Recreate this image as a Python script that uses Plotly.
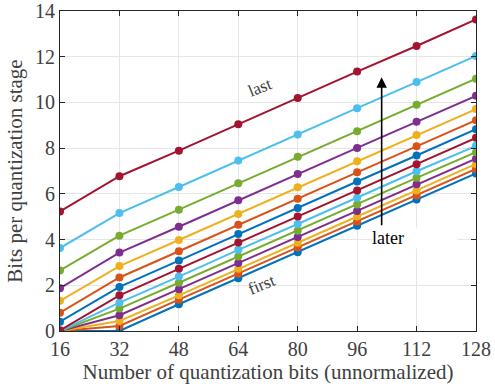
import plotly.graph_objects as go

bits = [16, 32, 48, 64, 80, 96, 112, 128]

# stage curves, from "first" (bottom) to "last" (top)
s01 = [0.00, 0.00, 1.17, 2.31, 3.45, 4.61, 5.75, 6.89]
s02 = [0.00, 0.22, 1.37, 2.51, 3.65, 4.79, 5.93, 7.09]
s03 = [0.00, 0.44, 1.56, 2.72, 3.86, 5.01, 6.15, 7.31]
s04 = [0.00, 0.69, 1.83, 2.97, 4.11, 5.25, 6.42, 7.54]
s05 = [0.00, 0.98, 2.11, 3.26, 4.39, 5.53, 6.70, 7.82]
s06 = [0.00, 1.24, 2.38, 3.55, 4.68, 5.83, 6.99, 8.10]
s07 = [0.03, 1.56, 2.72, 3.87, 5.01, 6.15, 7.29, 8.45]
s08 = [0.41, 1.93, 3.08, 4.24, 5.38, 6.54, 7.68, 8.83]
s09 = [0.80, 2.34, 3.49, 4.65, 5.79, 6.94, 8.08, 9.22]
s10 = [1.32, 2.84, 3.98, 5.12, 6.29, 7.43, 8.57, 9.71]
s11 = [1.87, 3.43, 4.56, 5.72, 6.87, 8.01, 9.15, 10.29]
s12 = [2.65, 4.17, 5.31, 6.46, 7.62, 8.74, 9.90, 11.04]
s13 = [3.63, 5.16, 6.30, 7.46, 8.60, 9.75, 10.89, 12.03]
s14 = [5.23, 6.77, 7.89, 9.05, 10.19, 11.35, 12.47, 13.63]
series = [s01, s02, s03, s04, s05, s06, s07, s08, s09, s10, s11, s12, s13, s14]

x_ticks = [16, 32, 48, 64, 80, 96, 112, 128]
y_ticks = [0, 2, 4, 6, 8, 10, 12, 14]

palette = ["#0072BD", "#D95319", "#EDB120", "#7E2F8E", "#77AC30", "#4DBEEE", "#A2142F"]

FONT = "Liberation Serif"
GRAY = "#404040"

fig = go.Figure()
for i, s in enumerate(series):
    c = palette[i % len(palette)]
    fig.add_trace(go.Scatter(
        x=bits, y=s, mode="lines+markers",
        line=dict(color=c, width=2),
        marker=dict(color=c, size=8),
        showlegend=False,
    ))

axis_common = dict(
    showline=True, mirror="ticks", linecolor="#262626", linewidth=1,
    ticks="inside", ticklen=5, tickcolor="#262626",
    showgrid=True, gridcolor="#e6e6e6", gridwidth=1,
    zeroline=False, automargin=False,
    tickfont=dict(family=FONT, size=20, color=GRAY),
)

fig.update_xaxes(
    range=[16, 128], tickvals=x_ticks,
    title=dict(text="Number of quantization bits (unnormalized)",
               font=dict(family=FONT, size=21, color=GRAY), standoff=6),
    **axis_common,
)
fig.update_yaxes(
    range=[0, 14], tickvals=y_ticks,
    title=dict(text="Bits per quantization stage",
               font=dict(family=FONT, size=21, color=GRAY), standoff=6),
    **axis_common,
)

fig.add_annotation(x=69.8, y=10.66, text="last", showarrow=False, textangle=-22,
                   font=dict(family=FONT, size=17, color=GRAY))
fig.add_annotation(x=70.4, y=2.02, text="first", showarrow=False, textangle=-22,
                   font=dict(family=FONT, size=17, color=GRAY))
fig.add_annotation(x=102.6, y=11.1, ax=102.6, ay=4.56, axref="x", ayref="y",
                   xref="x", yref="y", text="", showarrow=True,
                   arrowhead=2, arrowsize=1.3, arrowwidth=1.6, arrowcolor="black")
fig.add_annotation(x=99.6, y=4.08, text="later", showarrow=False,
                   xanchor="left", align="left", width=85, bgcolor="white",
                   borderpad=0,
                   font=dict(family=FONT, size=18, color="black"))

fig.update_layout(
    width=495, height=384,
    margin=dict(l=60, r=19, t=11, b=53),
    paper_bgcolor="white", plot_bgcolor="white",
)

fig.write_html("out.html")
